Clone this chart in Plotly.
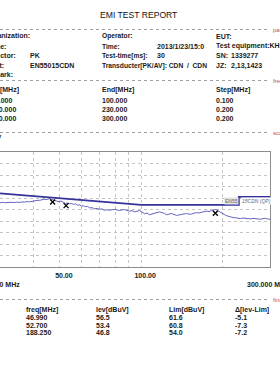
import plotly.graph_objects as go
import math

# ---------------- data ----------------
scan_freq = [30.0, 30.6, 31.2, 31.8, 32.5, 33.2, 33.9, 34.6, 35.4, 36.2, 37.0, 37.8, 38.6, 39.4,
             40.3, 41.1, 42.0, 42.9, 43.8, 44.4, 45.0, 45.8, 46.3, 46.9, 47.5, 48.2, 49.0, 49.8,
             50.5, 51.1, 51.7, 52.4, 53.3, 54.3, 55.2, 56.2, 57.1, 58.1, 59.1, 60.1, 61.1, 62.2,
             63.3, 64.4, 65.8, 67.2, 68.6, 70.1, 71.6, 73.1, 74.7, 76.3, 78.0, 79.7, 81.4, 83.1,
             84.9, 86.8, 88.6, 90.5, 92.5, 94.5, 96.5, 98.6, 100.7, 102.9, 105.1, 107.4, 109.7,
             112.0, 114.4, 116.9, 118.4, 120.0, 122.0, 124.1, 126.8, 129.5, 132.3, 135.2, 138.1,
             141.0, 144.1, 147.2, 150.4, 153.6, 156.9, 160.3, 163.8, 167.3, 170.9, 174.6, 178.4,
             182.2, 185.3, 188.5, 191.0, 193.4, 195.9, 198.4, 201.8, 205.3, 209.7, 214.2, 218.9,
             223.6, 228.4, 233.3, 238.3, 243.5, 248.7, 254.1, 259.6, 265.2, 270.9, 276.7, 282.7,
             288.7, 294.3, 300.0]
scan_level = [55.8, 56.3, 55.9, 56.1, 55.7, 56.3, 56.0, 56.4, 56.1, 56.6, 56.4, 56.9, 56.7, 57.2,
              57.3, 57.9, 58.0, 58.6, 58.9, 58.6, 59.2, 59.4, 58.7, 58.8, 58.0, 57.8, 57.1, 56.7,
              57.3, 57.0, 56.1, 55.2, 55.6, 55.0, 55.3, 54.5, 54.8, 53.8, 54.1, 53.0, 53.3, 52.4,
              52.7, 51.4, 51.6, 50.6, 50.9, 50.2, 50.5, 49.3, 49.8, 49.4, 49.9, 50.1, 49.6, 49.1,
              49.7, 49.9, 49.2, 48.6, 49.0, 48.0, 48.5, 49.1, 47.8, 46.3, 46.9, 45.4, 46.1,
              46.8, 47.4, 47.9, 47.5, 47.2, 46.6, 45.4, 45.9, 46.5, 45.7, 44.8, 45.3,
              45.6, 46.2, 46.5, 45.9, 46.0, 46.8, 47.3, 47.0, 47.8, 48.1, 48.6, 48.2,
              49.1, 49.5, 50.0, 49.4, 48.6, 47.8, 46.9, 45.8, 45.0, 44.2, 43.4, 43.0,
              42.8, 42.5, 42.1, 42.6, 42.4, 41.9, 41.8, 42.3, 42.0, 41.6, 41.5, 42.1,
              42.3, 41.7, 41.5]

limit_freq = [30, 100, 230, 230, 300]
limit_level = [64, 54, 54, 61, 61]

final_freq = [46.990, 52.700, 188.250]
final_lev = [56.5, 53.4, 46.8]
final_lim = [61.6, 60.8, 54.0]
final_delta = [-5.1, -7.3, -7.2]

grid_freqs = [40, 50, 60, 70, 80, 90, 100, 200]
tick_labels = {50: "50.00", 100: "100.00"}

hdr_left_labels = ["Organization:", "Name:", "Detector:", "Limit:", "Remark:"]
hdr_left_values = ["", "", "PK", "EN55015CDN", ""]
hdr_mid_labels = ["Operator:", "Time:", "Test-time[ms]:", "Transducter[PK/AV]: CDN  /  CDN", ""]
hdr_mid_values = ["", "2013/1/23/15:0", "30", "", ""]
hdr_right_labels = ["EUT:", "Test equipment:KH3933", "SN:", "JZ:", ""]
hdr_right_values = ["", "", "1339277", "2,13,1423", ""]

range_start = ["30.000", "100.000", "230.000"]
range_end = ["100.000", "230.000", "300.000"]
range_step = ["0.100", "0.200", "0.200"]

# ---------------- layout helpers ----------------
FW, FH = 280, 380
L, R, T, B = 0, 10, 152, 113
W = FW - L - R
H = FH - T - B

def px(x):
    return (x - L) / W

def py(y):
    return 1 - (y - T) / H

FONT = "Liberation Sans, Arial, sans-serif"
annotations = []
shapes = []

def text(s, x, y, anchor="left", size=7, bold=True, color="#1a1a1a"):
    annotations.append(dict(
        text=s, x=px(x), y=py(y), xref="paper", yref="paper",
        xanchor=anchor, yanchor="middle", showarrow=False,
        font=dict(family=FONT, size=size, color=color, weight="bold" if bold else "normal"),
    ))

def dash_line(y, label):
    shapes.append(dict(type="line", xref="paper", yref="paper",
                       x0=px(0), x1=px(268), y0=py(y), y1=py(y),
                       line=dict(color="#a0a0a0", width=1, dash="dot")))
    text(label, 270.5, y, size=6, bold=False, color="#c05050")

# title
text("EMI TEST REPORT", 138.5, 15, anchor="center", size=8.6, bold=False, color="#111")

dash_line(29.5, "parameter")
rows_y = [36, 46, 56, 65.5, 75]
for i, yy in enumerate(rows_y):
    text(hdr_left_labels[i], -17, yy)
    if hdr_left_values[i]:
        text(hdr_left_values[i], 28, yy)
    if hdr_mid_labels[i]:
        text(hdr_mid_labels[i], 100, yy, size=6.7)
    if hdr_mid_values[i]:
        text(hdr_mid_values[i], 155, yy)
    if hdr_right_labels[i]:
        text(hdr_right_labels[i], 214, yy)
    if hdr_right_values[i]:
        text(hdr_right_values[i], 228.5, yy)

dash_line(80.5, "frequency")
text("Start[MHz]", -18, 90)
text("End[MHz]", 100, 90)
text("Step[MHz]", 214, 90)
for i, yy in enumerate([100, 109, 118]):
    text(range_start[i], -11.5, yy)
    text(range_end[i], 100, yy)
    text(range_step[i], 214, yy)

dash_line(132.5, "scan")
text("dBuV", 4, 137.5, anchor="right")

text("30.000 MHz", 22, 284.5, anchor="right")
text("300.000 MHz", 245, 284.5)

dash_line(299.5, "final")
cols_x = [24.3, 94.3, 166.7, 233.3]
for x, h in zip(cols_x, ["freq[MHz]", "lev[dBuV]", "Lim[dBuV]", "Δ[lev-Lim]"]):
    text(h, x, 309.5)
for i, yy in enumerate([317.5, 325, 332.5]):
    text(f"{final_freq[i]:.3f}", cols_x[0], yy)
    text(f"{final_lev[i]:.1f}", cols_x[1], yy)
    text(f"{final_lim[i]:.1f}", cols_x[2], yy)
    text(f"{final_delta[i]:.1f}", cols_x[3], yy)

# limit label
annotations.append(dict(text="EN55", x=px(239), y=py(200.5), xref="paper", yref="paper",
                        xanchor="right", yanchor="middle", showarrow=False, bgcolor="#e4e4e4",
                        borderpad=0, font=dict(family=FONT, size=5, color="#666")))
annotations.append(dict(text="15CDN (QP)", x=px(241), y=py(200.5), xref="paper", yref="paper",
                        xanchor="left", yanchor="middle", showarrow=False, bgcolor="#ffffff",
                        borderpad=0, font=dict(family=FONT, size=5, color="#666", style="italic")))

# ---------------- figure ----------------
fig = go.Figure()
fig.add_trace(go.Scatter(x=scan_freq, y=scan_level, mode="lines",
                         line=dict(color="#6464bc", width=1), hoverinfo="skip"))
fig.add_trace(go.Scatter(x=limit_freq, y=limit_level, mode="lines",
                         line=dict(color="#34349c", width=1.8), hoverinfo="skip"))
fig.add_trace(go.Scatter(x=final_freq, y=final_lev, mode="markers",
                         marker=dict(symbol="x-thin", size=5, color="#000",
                                     line=dict(width=1.3, color="#000")), hoverinfo="skip"))

fig.update_layout(
    width=FW, height=FH, margin=dict(l=L, r=R, t=T, b=B),
    paper_bgcolor="white", plot_bgcolor="white", showlegend=False,
    annotations=annotations, shapes=shapes,
    xaxis=dict(type="log", range=[math.log10(30), math.log10(300)],
               tickvals=grid_freqs, ticktext=[tick_labels.get(f, "") for f in grid_freqs],
               showgrid=True, gridcolor="#c4c4c4", griddash="dot", gridwidth=1,
               showline=True, mirror=True, linecolor="#8c8c8c", linewidth=1,
               ticks="", ticklabelshift=4, ticklabelstandoff=2,
               tickfont=dict(family=FONT, size=7, color="#1a1a1a", weight="bold"),
               zeroline=False),
    yaxis=dict(range=[0, 100], dtick=10, showticklabels=False,
               showgrid=True, gridcolor="#c4c4c4", griddash="dot", gridwidth=1,
               showline=True, mirror=True, linecolor="#8c8c8c", linewidth=1,
               ticks="", zeroline=False),
)

fig.write_html("out.html")
